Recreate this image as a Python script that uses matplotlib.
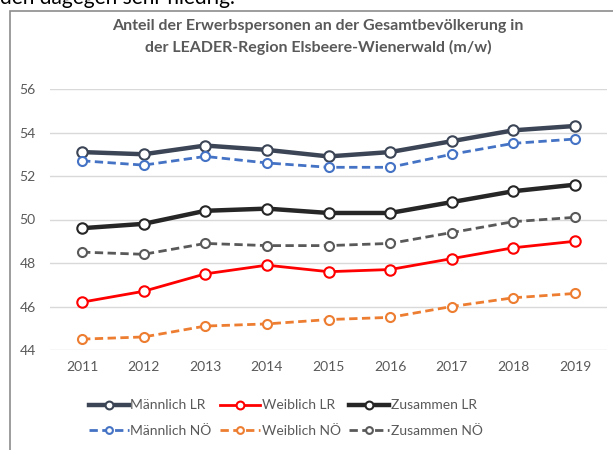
import matplotlib.pyplot as plt
from matplotlib.patches import Rectangle

plt.rcParams['font.family'] = ['Lato', 'DejaVu Sans']

years = [2011, 2012, 2013, 2014, 2015, 2016, 2017, 2018, 2019]
maennlich_lr = [53.1, 53.0, 53.4, 53.2, 52.9, 53.1, 53.6, 54.1, 54.3]
maennlich_noe = [52.7, 52.5, 52.9, 52.6, 52.4, 52.4, 53.0, 53.5, 53.7]
zusammen_lr = [49.6, 49.8, 50.4, 50.5, 50.3, 50.3, 50.8, 51.3, 51.6]
zusammen_noe = [48.5, 48.4, 48.9, 48.8, 48.8, 48.9, 49.4, 49.9, 50.1]
weiblich_lr = [46.2, 46.7, 47.5, 47.9, 47.6, 47.7, 48.2, 48.7, 49.0]
weiblich_noe = [44.5, 44.6, 45.1, 45.2, 45.4, 45.5, 46.0, 46.4, 46.6]
yticks = [44, 46, 48, 50, 52, 54, 56]

fig = plt.figure(figsize=(6.13, 4.5), dpi=100)

# text of the page above the chart, cut off by the screenshot
fig.text(0.0, 0.992, "den dagegen sehr niedrig.", fontsize=15, color='black', va='baseline')

# chart frame
fig.patches.append(Rectangle((10/613, -0.1), 1.1, 1 - 11/450 + 0.1, transform=fig.transFigure,
                             fill=False, edgecolor='#8c8c8c', linewidth=1.2))

ax = fig.add_axes([50/613, 1 - 350/450, 557/613, 261/450])

def draw(vals, color, lw, ls, label, ms=7.5):
    return ax.plot(years, vals, color=color, linewidth=lw, linestyle=ls, marker='o',
                   markersize=ms, markerfacecolor='white', markeredgecolor=color,
                   markeredgewidth=1.5, label=label, dashes=(3, 1.6) if ls == '--' else (None, None))[0]

h1 = draw(maennlich_lr, '#3b4556', 3.2, '-', 'Männlich LR')
h2 = draw(weiblich_lr, '#ff0000', 2.0, '-', 'Weiblich LR')
h3 = draw(zusammen_lr, '#262626', 3.2, '-', 'Zusammen LR')
h4 = draw(maennlich_noe, '#4472c4', 2.0, '--', 'Männlich NÖ', ms=6.5)
h5 = draw(weiblich_noe, '#ed7d31', 2.0, '--', 'Weiblich NÖ', ms=6.5)
h6 = draw(zusammen_noe, '#595959', 2.0, '--', 'Zusammen NÖ', ms=6.5)

ax.set_xlim(2010.48, 2019.52)
ax.set_ylim(44, 56)
ax.set_yticks(yticks)
ax.set_xticks(years)
ax.grid(axis='y', color='#d9d9d9', linewidth=1)
ax.set_axisbelow(True)
for s in ax.spines.values():
    s.set_visible(False)
ax.tick_params(length=0, colors='#595959', labelsize=10, pad=8)
ax.tick_params(axis='y', pad=22)
for lab in ax.get_yticklabels():
    lab.set_horizontalalignment('left')

fig.text(0.519, 1 - 37/450,
         "Anteil der Erwerbspersonen an der Gesamtbevölkerung in\nder LEADER-Region Elsbeere-Wienerwald (m/w)",
         ha='center', va='center', fontsize=11.5, fontweight='bold', color='#595959', linespacing=1.5)

fig.legend([h1, h4, h2, h5, h3, h6],
           ['Männlich LR', 'Männlich NÖ', 'Weiblich LR', 'Weiblich NÖ', 'Zusammen LR', 'Zusammen NÖ'],
           ncol=3, loc='center', bbox_to_anchor=(0.466, 1 - 418/450), frameon=False,
           fontsize=10, labelcolor='#595959', handlelength=2.9, handletextpad=0.1,
           columnspacing=0.6, labelspacing=0.95, markerscale=0.75)

fig.savefig('out.png', dpi=100)
